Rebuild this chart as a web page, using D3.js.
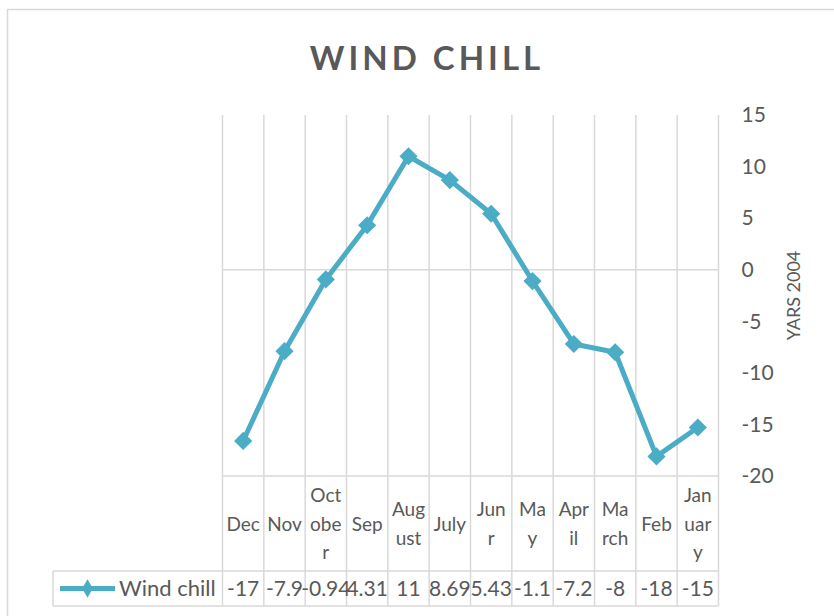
<!DOCTYPE html>
<html>
<head>
<meta charset="utf-8">
<script src="https://d3js.org/d3.v7.min.js"></script>
<style>
  body { margin: 0; background: #fff; }
  svg { display: block; }
</style>
</head>
<body>
<svg class="chart" width="834" height="616"></svg>
<script>
const categories = ["Dec", "Nov", "October", "Sep", "August", "July", "Junr", "May", "April", "March", "Feb", "January"];
// how the category names wrap in the table cells
const categoryLines = [["Dec"], ["Nov"], ["Oct", "obe", "r"], ["Sep"], ["Aug", "ust"], ["July"], ["Jun", "r"], ["Ma", "y"], ["Apr", "il"], ["Ma", "rch"], ["Feb"], ["Jan", "uar", "y"]];
const windChill = [-16.6, -7.9, -0.94, 4.31, 11, 8.69, 5.43, -1.1, -7.2, -8, -18.1, -15.3];
const tableLabels = ["-17", "-7.9", "-0.94", "4.31", "11", "8.69", "5.43", "-1.1", "-7.2", "-8", "-18", "-15"];
const yTicks = [-20, -15, -10, -5, 0, 5, 10, 15];
const seriesName = "Wind chill";

function draw() {
  const lineCol = '#4bacc6';
  const gridCol = '#d9d9d9';
  const textCol = '#595959';
  const font = "Lato, 'Open Sans', sans-serif";

  const plot = {left: 222.5, right: 718.5, top: 115, bottom: 476};
  const table = {labelBottom: 571, rowBottom: 606, legendLeft: 53};

  const svg = d3.select('svg.chart');

  // outer chart frame (runs off the right and bottom edge)
  svg.append('path')
     .attr('d', `M7.5,${616} V9.5 H834`)
     .style('fill', 'none')
     .style('stroke', gridCol)
     .style('stroke-width', '1.5px');

  svg.append('text')
     .attr('x', 427)
     .attr('y', 70)
     .text('WIND CHILL')
     .style('fill', textCol)
     .style('font-family', font)
     .style('font-weight', 'bold')
     .style('font-size', '33px')
     .style('letter-spacing', '4px')
     .style('text-anchor', 'middle');

  const x = d3.scaleBand()
              .domain(categories)
              .range([plot.left, plot.right]);

  const y = d3.scaleLinear()
              .domain([-20, 15])
              .range([plot.bottom, plot.top]);

  const grid = svg.append('g')
                  .style('stroke', gridCol)
                  .style('stroke-width', '1.5px');

  // vertical gridlines at the category boundaries, running through the table
  const bounds = categories.map(c => x(c)).concat([plot.right]);
  grid.selectAll('line.vg')
      .data(bounds)
      .enter()
      .append('line')
      .attr('class', 'vg')
      .attr('x1', d => d).attr('x2', d => d)
      .attr('y1', plot.top).attr('y2', table.rowBottom);

  // zero line, table top, label row bottom, table bottom
  grid.append('line')
      .attr('x1', plot.left).attr('x2', plot.right)
      .attr('y1', y(0)).attr('y2', y(0));
  grid.append('line')
      .attr('x1', plot.left).attr('x2', plot.right)
      .attr('y1', plot.bottom).attr('y2', plot.bottom);
  grid.append('line')
      .attr('x1', table.legendLeft).attr('x2', plot.right)
      .attr('y1', table.labelBottom).attr('y2', table.labelBottom);
  grid.append('line')
      .attr('x1', table.legendLeft).attr('x2', plot.right)
      .attr('y1', table.rowBottom).attr('y2', table.rowBottom);
  grid.append('line')
      .attr('x1', table.legendLeft).attr('x2', table.legendLeft)
      .attr('y1', table.labelBottom).attr('y2', table.rowBottom);

  // right value axis
  const yAxis = svg.append('g')
                   .attr('transform', `translate(${plot.right}, 0)`)
                   .call(d3.axisRight(y).tickValues(yTicks).tickFormat(d => String(d)).tickSize(0).tickPadding(23));
  yAxis.select('.domain').remove();
  yAxis.selectAll('text')
       .style('fill', textCol)
       .style('font-family', font)
       .style('font-size', '21px');

  svg.append('text')
     .attr('transform', `translate(800, ${(plot.top + plot.bottom) / 2}) rotate(-90)`)
     .text('YARS 2004')
     .style('fill', textCol)
     .style('font-family', font)
     .style('font-size', '18px')
     .style('text-anchor', 'middle');

  // category labels in the table header cells
  const lineH = 28.5;
  const midY = (plot.bottom + table.labelBottom) / 2;
  const catText = svg.selectAll('text.cat')
                     .data(categories)
                     .enter()
                     .append('text')
                     .attr('class', 'cat')
                     .attr('x', d => x(d) + x.bandwidth() / 2)
                     .style('fill', textCol)
                     .style('font-family', font)
                     .style('font-size', '19px')
                     .style('text-anchor', 'middle');
  catText.selectAll('tspan')
         .data((d, i) => categoryLines[i].map((t, j, a) => ({t, j, n: a.length})))
         .enter()
         .append('tspan')
         .attr('x', function() { return this.parentNode.getAttribute('x'); })
         .attr('y', d => midY + 7 + (d.j - (d.n - 1) / 2) * lineH)
         .text(d => d.t);

  // value row
  const rowY = (table.labelBottom + table.rowBottom) / 2 + 7.5;
  svg.selectAll('text.val')
     .data(tableLabels)
     .enter()
     .append('text')
     .attr('class', 'val')
     .attr('x', (d, i) => x(categories[i]) + x.bandwidth() / 2)
     .attr('y', rowY)
     .text(d => d)
     .style('fill', textCol)
     .style('font-family', font)
     .style('font-size', '21px')
     .style('text-anchor', 'middle');

  // legend key inside the table
  const diamond = d3.symbol().type(d3.symbolDiamond2).size(210);
  const legY = (table.labelBottom + table.rowBottom) / 2;
  svg.append('line')
     .attr('x1', 60).attr('x2', 115)
     .attr('y1', legY).attr('y2', legY)
     .style('stroke', lineCol)
     .style('stroke-width', '5px');
  svg.append('path')
     .attr('d', d3.symbol().type(d3.symbolDiamond).size(100)())
     .attr('transform', `translate(87.5, ${legY})`)
     .style('fill', lineCol);
  svg.append('text')
     .attr('x', 119)
     .attr('y', rowY)
     .text(seriesName)
     .style('fill', textCol)
     .style('font-family', font)
     .style('font-size', '22px');

  // the series
  const line = d3.line()
                 .x((d, i) => x(categories[i]) + x.bandwidth() / 2)
                 .y(d => y(d));

  svg.append('path')
     .datum(windChill)
     .attr('d', line)
     .style('fill', 'none')
     .style('stroke', lineCol)
     .style('stroke-width', '5px')
     .style('stroke-linejoin', 'round');

  svg.selectAll('path.mk')
     .data(windChill)
     .enter()
     .append('path')
     .attr('class', 'mk')
     .attr('d', diamond)
     .attr('transform', (d, i) => `translate(${x(categories[i]) + x.bandwidth() / 2}, ${y(d)})`)
     .style('fill', lineCol);
}

draw();
</script>
</body>
</html>
